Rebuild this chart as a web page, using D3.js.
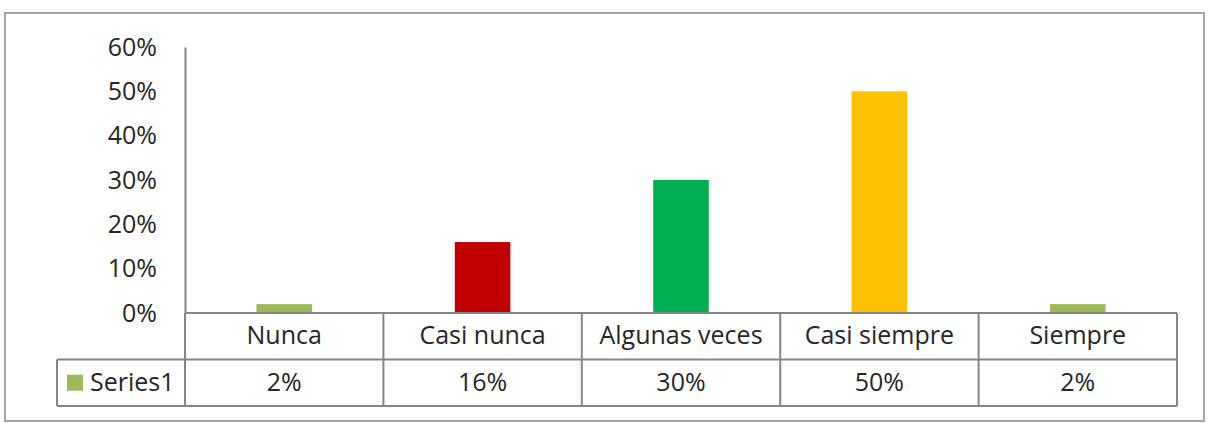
<!DOCTYPE html>
<html>
<head>
<meta charset="utf-8">
<script src="https://cdn.jsdelivr.net/npm/d3@7"></script>
<style>
body { margin: 0; background: #fff; }
text { font-family: "Open Sans", sans-serif; fill: #262626; }
</style>
</head>
<body>
<svg width="1212" height="423"></svg>
<script>
// data
var categories = ["Nunca", "Casi nunca", "Algunas veces", "Casi siempre", "Siempre"];
var values = [0.02, 0.16, 0.30, 0.50, 0.02];
var valueLabels = ["2%", "16%", "30%", "50%", "2%"];
var barColors = ["#9BBB59", "#C00000", "#00B050", "#FFC000", "#9BBB59"];
var yTicks = [0, 0.1, 0.2, 0.3, 0.4, 0.5, 0.6];
var seriesName = "Series1";

var svg = d3.select("svg");

// outer frame
svg.append("rect")
  .attr("x", 5).attr("y", 13)
  .attr("width", 1199).attr("height", 408)
  .attr("fill", "none").attr("stroke", "#a6a6a6").attr("stroke-width", 2);

var plotL = 185, plotR = 1177, plotT = 47, base = 313, rowH = 46.5;
var legendL = 57;
var fs = "25px";

var x = d3.scaleBand().domain(categories).range([plotL, plotR]);
var y = d3.scaleLinear().domain([0, 0.6]).range([base, plotT]);

// bars
svg.append("g").selectAll("rect").data(values).enter().append("rect")
  .attr("x", function(d, i) { return x(categories[i]) + x.bandwidth() * 0.36; })
  .attr("width", x.bandwidth() * 0.28)
  .attr("y", function(d) { return y(d); })
  .attr("height", function(d) { return base - y(d); })
  .attr("fill", function(d, i) { return barColors[i]; });

// y axis
var yAxis = svg.append("g")
  .attr("transform", "translate(" + plotL + ",0)")
  .call(d3.axisLeft(y).tickValues(yTicks).tickSize(0).tickPadding(28).tickFormat(d3.format(".0%")));
yAxis.select(".domain").attr("stroke", "#868686").attr("stroke-width", 2);
yAxis.selectAll("text").style("font-size", fs).style("font-family", "Open Sans").attr("fill", "#262626");

// data table lines
var lineColor = "#868686";
var tbl = svg.append("g").attr("stroke", lineColor).attr("stroke-width", 2);
tbl.append("line").attr("x1", plotL).attr("x2", plotR).attr("y1", base).attr("y2", base);
tbl.append("line").attr("x1", legendL).attr("x2", plotR).attr("y1", base + rowH).attr("y2", base + rowH);
tbl.append("line").attr("x1", legendL).attr("x2", plotR).attr("y1", base + 2 * rowH).attr("y2", base + 2 * rowH);
tbl.append("line").attr("x1", legendL).attr("x2", legendL).attr("y1", base + rowH).attr("y2", base + 2 * rowH);
tbl.selectAll(".v").data(categories.concat(["end"])).enter().append("line")
  .attr("x1", function(d) { return d == "end" ? plotR : x(d); })
  .attr("x2", function(d) { return d == "end" ? plotR : x(d); })
  .attr("y1", base).attr("y2", base + 2 * rowH);

// category row
svg.append("g").selectAll("text").data(categories).enter().append("text")
  .attr("x", function(d) { return x(d) + x.bandwidth() / 2; })
  .attr("y", base + rowH / 2 + 8)
  .attr("text-anchor", "middle")
  .style("font-size", fs)
  .text(function(d) { return d; });

// value row
svg.append("g").selectAll("text").data(valueLabels).enter().append("text")
  .attr("x", function(d, i) { return x(categories[i]) + x.bandwidth() / 2; })
  .attr("y", base + rowH * 1.5 + 8)
  .attr("text-anchor", "middle")
  .style("font-size", fs)
  .text(function(d) { return d; });

// legend key
svg.append("rect")
  .attr("x", 67).attr("y", base + rowH * 1.5 - 8)
  .attr("width", 16).attr("height", 16)
  .attr("fill", barColors[0]);
svg.append("text")
  .attr("x", 90).attr("y", base + rowH * 1.5 + 8)
  .style("font-size", fs)
  .text(seriesName);
</script>
</body>
</html>
